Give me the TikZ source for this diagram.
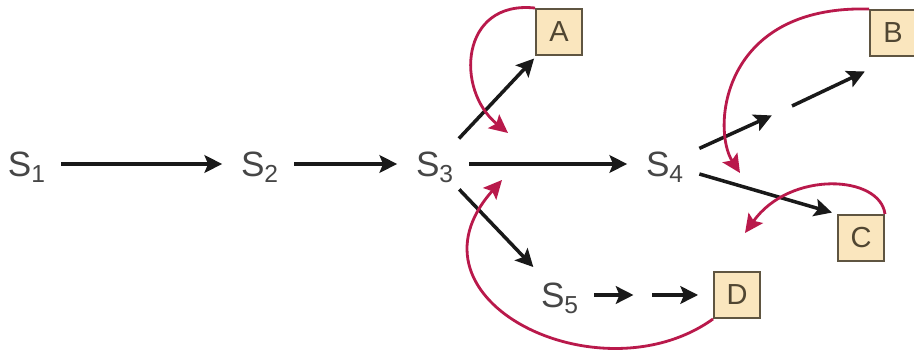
\documentclass[tikz,border=0pt]{standalone}
\usepackage{fontspec}
\setmainfont{Liberation Sans}
\usetikzlibrary{arrows.meta}
\definecolor{backred}{RGB}{185,25,75}
\definecolor{boxfill}{RGB}{250,230,190}
\definecolor{boxline}{RGB}{95,85,65}
\definecolor{boxtext}{RGB}{80,70,50}
\definecolor{textgray}{RGB}{70,70,70}
\definecolor{arrowblack}{RGB}{25,25,25}

\begin{document}
\begin{tikzpicture}[state/.style={inner xsep=0.3cm, inner ysep=0.25cm, text height=14.3pt, text depth=0pt, text=textgray, font=\fontsize{20}{24}\selectfont}, box/.style={draw=boxline, fill=boxfill, line width=1.1pt, minimum size=0.92cm, inner sep=0pt, text=boxtext, font=\fontsize{16.5}{19}\selectfont}, arr/.style={-{Stealth[length=10pt, width=10pt, inset=2pt]}, line width=2pt, draw=arrowblack, shorten >=2pt}, back/.style={-{Stealth[length=10.5pt, width=10pt, inset=2pt]}, line width=1.6pt, draw=backred}]
        \useasboundingbox (0,0) rectangle (18.28,7.02);
        \node (s1) [state] at (0.54,3.74) {S\textsubscript{1}};
        \node (s2) [state] at (5.2,3.74) {S\textsubscript{2}};
        \node (s3) [state] at (8.7,3.74) {S\textsubscript{3}};
        \node (s4) [state] at (13.3,3.74) {S\textsubscript{4}};
        \node (s5) [state] at (11.2,1.12) {S\textsubscript{5}};
        \node (a) [box] at (11.18,6.38) {A};
        \node (b) [box] at (17.86,6.36) {B};
        \node (c) [box] at (17.22,2.26) {C};
        \node (d) [box] at (14.74,1.12) {D};
        \coordinate (m1) at (15.5,4.74);
        \coordinate (m2) at (15.84,4.9);
        \coordinate (bt) at (17.36,5.62);
        \coordinate (m3) at (12.74,1.12);
        \coordinate (m4) at (13.04,1.12);
        \coordinate (ta) at (10.16,4.36);
        \coordinate (tb) at (14.8,3.56);
        \coordinate (tc) at (14.9,2.36);
        \coordinate (td) at (10.04,3.42);
        \draw[arr] (s1) -- (s2);
        \draw[arr] (s2) -- (s3);
        \draw[arr] (s3) -- (s4);
        \draw[arr] (s3) -- (a);
        \draw[arr] (s3) -- (s5);
        \draw[arr] (s4) -- (m1);
        \draw[arr] (m2) -- (bt);
        \draw[arr, shorten >=3pt] (s4) -- (c.north west);
        \draw[arr] (s5) -- (m3);
        \draw[arr, shorten >=0.3cm] (m4) -- (d);
        \draw[back] (a.north west) .. controls (9.2,7.02) and (9.1,5.22) .. (ta);
        \draw[back] (b.north west) .. controls (14.4,6.92) and (14.24,4.42) .. (tb);
        \draw[back] (c.north east) .. controls (17.6,3.52) and (15.8,3.62) .. (tc);
        \draw[back] (d.south west) .. controls (12.0,-0.98) and (7.9,1.02) .. (td);
    \end{tikzpicture}
\end{document}
